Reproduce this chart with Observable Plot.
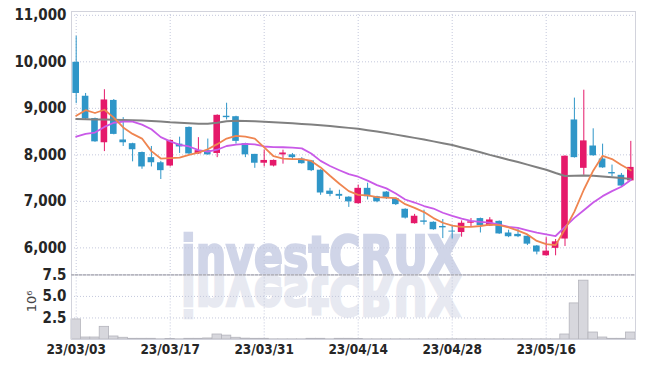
<!DOCTYPE html>
<html><head><meta charset="utf-8">
<script src="https://cdn.jsdelivr.net/npm/d3@7"></script>
<script src="https://cdn.jsdelivr.net/npm/@observablehq/plot@0.6"></script>
<style>
body{margin:0;background:#fff;}
#wrap{position:relative;width:645px;height:368px;overflow:hidden;}
#wrap > svg{position:absolute;left:0;top:0;}
</style></head><body><div id="wrap">
<svg id="wm" width="645" height="368">
  <text x="321" y="274" font-family="'DejaVu Sans', 'Liberation Sans', sans-serif" font-weight="bold" font-size="54" fill="#d0d5e8" stroke="#d0d5e8" stroke-width="2.5" text-anchor="middle" textLength="280" lengthAdjust="spacingAndGlyphs">investCRUX</text>
  <text x="321" y="274" transform="translate(0,551) scale(1,-1)" font-family="'DejaVu Sans', 'Liberation Sans', sans-serif" font-weight="bold" font-size="54" fill="#e7e9f1" stroke="#e7e9f1" stroke-width="2.5" text-anchor="middle" textLength="280" lengthAdjust="spacingAndGlyphs">investCRUX</text>
</svg>
</div>
<script>
const dates = ["23/03/03","23/03/06","23/03/07","23/03/08","23/03/09","23/03/10","23/03/13","23/03/14","23/03/15","23/03/16",
"23/03/17","23/03/20","23/03/21","23/03/22","23/03/23","23/03/24","23/03/27","23/03/28","23/03/29","23/03/30",
"23/03/31","23/04/03","23/04/04","23/04/05","23/04/06","23/04/07","23/04/10","23/04/11","23/04/12","23/04/13",
"23/04/14","23/04/17","23/04/18","23/04/19","23/04/20","23/04/21","23/04/24","23/04/25","23/04/26","23/04/27",
"23/04/28","23/05/02","23/05/03","23/05/04","23/05/08","23/05/09","23/05/10","23/05/11","23/05/12","23/05/15",
"23/05/16","23/05/17","23/05/18","23/05/19","23/05/22","23/05/23","23/05/24","23/05/25","23/05/26","23/05/30"];

const open = [9990,9260,8780,8260,9170,8320,8240,8050,7940,7830,
7760,8230,8590,8020,8090,8030,8830,8820,8240,8010,
7820,7760,8000,8000,7910,7870,7670,7220,7150,7090,
6950,7280,7100,7200,7060,6830,6520,6580,6550,6460,
6360,6330,6530,6630,6470,6570,6320,6290,6250,6040,
5830,5990,6190,8750,7710,8190,7910,7620,7560,7440];
const high = [10550,9320,8790,9400,9190,8800,8250,8060,8180,7860,
8320,8380,8600,8370,8340,8860,9110,8830,8250,8010,
8100,7890,8100,8030,7940,7880,7680,7280,7240,7100,
7350,7390,7110,7210,7070,6840,6720,6810,6560,6610,
6470,6580,6630,6640,6650,6580,6380,6400,6260,6050,
6220,6180,7980,9220,9390,8560,8230,7780,7600,8290];
const low = [9100,8750,8270,8070,8430,8180,7850,7690,7740,7470,
7740,8030,8000,8010,7990,7940,8750,8230,7940,7710,
7740,7740,7800,7890,7800,7640,7130,7100,7040,6870,
6940,7030,6970,7040,6910,6620,6510,6490,6380,6200,
6190,6230,6460,6320,6460,6290,6220,6220,6050,5850,
5820,5830,6030,7930,7560,7970,7710,7530,7320,7430];
const close = [9320,8770,8280,9180,8440,8260,8110,7740,7830,7660,
8310,8170,8020,8090,8000,8850,8800,8290,8000,7820,
7880,7880,8040,7940,7810,7660,7180,7150,7110,6990,
7280,7100,6990,7060,6930,6640,6680,6550,6390,6430,
6340,6530,6560,6480,6600,6300,6240,6240,6080,5910,
5930,6130,7970,7940,8300,7980,7720,7590,7330,7730];

const ma5 = [8840,8960,8900,8970,8800,8590,8450,8350,8080,7920,
7930,7940,8000,8050,8120,8230,8350,8410,8390,8350,
8160,7970,7920,7910,7910,7870,7730,7550,7380,7220,
7140,7130,7090,7080,7070,6940,6860,6770,6640,6540,
6480,6450,6450,6470,6500,6490,6440,6370,6290,6150,
6080,6060,6400,6780,7250,7660,7980,7910,7780,7670];
const ma20 = [8390,8450,8480,8600,8690,8715,8715,8650,8550,8380,
8290,8215,8180,8100,8070,8110,8190,8220,8235,8225,
8180,8165,8163,8156,8140,8030,7870,7760,7670,7585,
7530,7445,7350,7280,7170,7040,6975,6900,6846,6755,
6690,6630,6580,6557,6545,6500,6450,6428,6378,6327,
6291,6255,6450,6644,6810,6975,7112,7220,7314,7458];
const ma60 = [8770,8765,8760,8758,8755,8750,8745,8740,8730,8715,
8700,8690,8680,8670,8670,8690,8720,8735,8730,8720,
8710,8700,8690,8680,8665,8650,8635,8620,8600,8580,
8560,8530,8500,8470,8435,8400,8365,8330,8290,8250,
8210,8160,8110,8055,8000,7950,7895,7845,7790,7735,
7680,7610,7545,7550,7555,7550,7535,7520,7500,7480];

const volume = [2.33,0.23,0.23,1.47,0.35,0.2,0.08,0.08,0.08,0.02,
0.05,0.02,0.08,0.08,0.12,0.58,0.45,0.2,0.1,0.08,
0.08,0.02,0.02,0.02,0.02,0.08,0.08,0.02,0.08,0.08,
0.05,0.02,0.02,0.02,0.02,0.02,0.02,0.02,0.02,0.02,
0.02,0.02,0.02,0.02,0.02,0.02,0.02,0.02,0.02,0.02,
0.02,0.02,0.58,4.19,6.83,0.81,0.23,0.08,0.08,0.81];

const priceTicks = [6000,7000,8000,9000,10000,11000];
const volumeTicks = [2.5,5.0,7.5];
const dateTicks = ["23/03/03","23/03/17","23/03/31","23/04/14","23/04/28","23/05/16"];

const rows = dates.map((d, i) => ({date: d, open: open[i], high: high[i], low: low[i], close: close[i],
  ma5: ma5[i], ma20: ma20[i], ma60: ma60[i], volume: volume[i]}));

const W = 645, H = 368, L = 71, R = 10, TOP = 11, SEP = 274.4, BOT = 339;
const FONT = "'Liberation Sans Narrow', 'DejaVu Sans Condensed', sans-serif";
const GRID = "#c4c8dc";
const UP = "#e5196a", DOWN = "#2f96c8";
const candleColor = d => d.close >= d.open ? UP : DOWN;
const xOpts = {type: "band", domain: dates, padding: 0, round: false, axis: null};

const price = Plot.plot({
  width: W, height: H, marginLeft: L, marginRight: R, marginTop: TOP, marginBottom: H - SEP,
  x: xOpts,
  y: {domain: [5419, 11082], axis: null},
  color: {type: "identity"},
  style: {background: "transparent", fontFamily: FONT, overflow: "visible"},
  marks: [
    Plot.gridY(priceTicks, {stroke: GRID, strokeOpacity: 1, strokeDasharray: "1,2"}),
    Plot.gridX(dateTicks, {stroke: GRID, strokeOpacity: 1, strokeDasharray: "1,2"}),
    Plot.frame({stroke: "#d2d3dc"}),
    Plot.axisY(priceTicks, {anchor: "left", tickSize: 0, tickPadding: 5, tickFormat: d3.format(","),
      fontSize: 15, fontWeight: "bold", fill: "#262626", label: null}),
    Plot.ruleX(rows, {x: "date", y1: "low", y2: "high", stroke: candleColor, strokeWidth: 1}),
    Plot.barY(rows, {x: "date", y1: "open", y2: "close", fill: candleColor, insetLeft: 1.4, insetRight: 1.4}),
    Plot.lineY(rows, {x: "date", y: "ma60", stroke: "#808080", strokeWidth: 2}),
    Plot.lineY(rows, {x: "date", y: "ma20", stroke: "#c95ae8", strokeWidth: 1.8}),
    Plot.lineY(rows, {x: "date", y: "ma5", stroke: "#ef8550", strokeWidth: 1.8})
  ]
});

const vol = Plot.plot({
  width: W, height: H, marginLeft: L, marginRight: R, marginTop: SEP, marginBottom: H - BOT,
  x: xOpts,
  y: {domain: [0, 7.5], axis: null},
  style: {background: "transparent", fontFamily: FONT, overflow: "visible"},
  marks: [
    Plot.gridY([2.5, 5.0], {stroke: GRID, strokeOpacity: 1, strokeDasharray: "1,2"}),
    Plot.gridX(dateTicks, {stroke: GRID, strokeOpacity: 1, strokeDasharray: "1,2"}),
    Plot.barY(rows, {x: "date", y: "volume", fill: "#d7d7dd", stroke: "#b4b4bc", strokeWidth: 0.8}),
    Plot.frame({stroke: "#d2d3dc"}),
    Plot.ruleY([7.5], {stroke: "#a0a0a8", strokeDasharray: "3,1"}),
    Plot.axisY(volumeTicks, {anchor: "left", tickSize: 0, tickPadding: 5, tickFormat: d3.format(".1f"),
      fontSize: 15, fontWeight: "bold", fill: "#262626", label: null}),
    Plot.axisX(dateTicks, {anchor: "bottom", tickSize: 0, tickPadding: 5, fontSize: 13.5, fontWeight: "bold",
      fill: "#262626", label: null}),
    Plot.text(["10⁶"], {frameAnchor: "left", dx: -40, dy: 5, rotate: -90, fontSize: 13, fill: "#444",
      fontFamily: "'DejaVu Sans', sans-serif"})
  ]
});

const wrap = document.getElementById("wrap");
wrap.appendChild(price);
wrap.appendChild(vol);
</script></body></html>
